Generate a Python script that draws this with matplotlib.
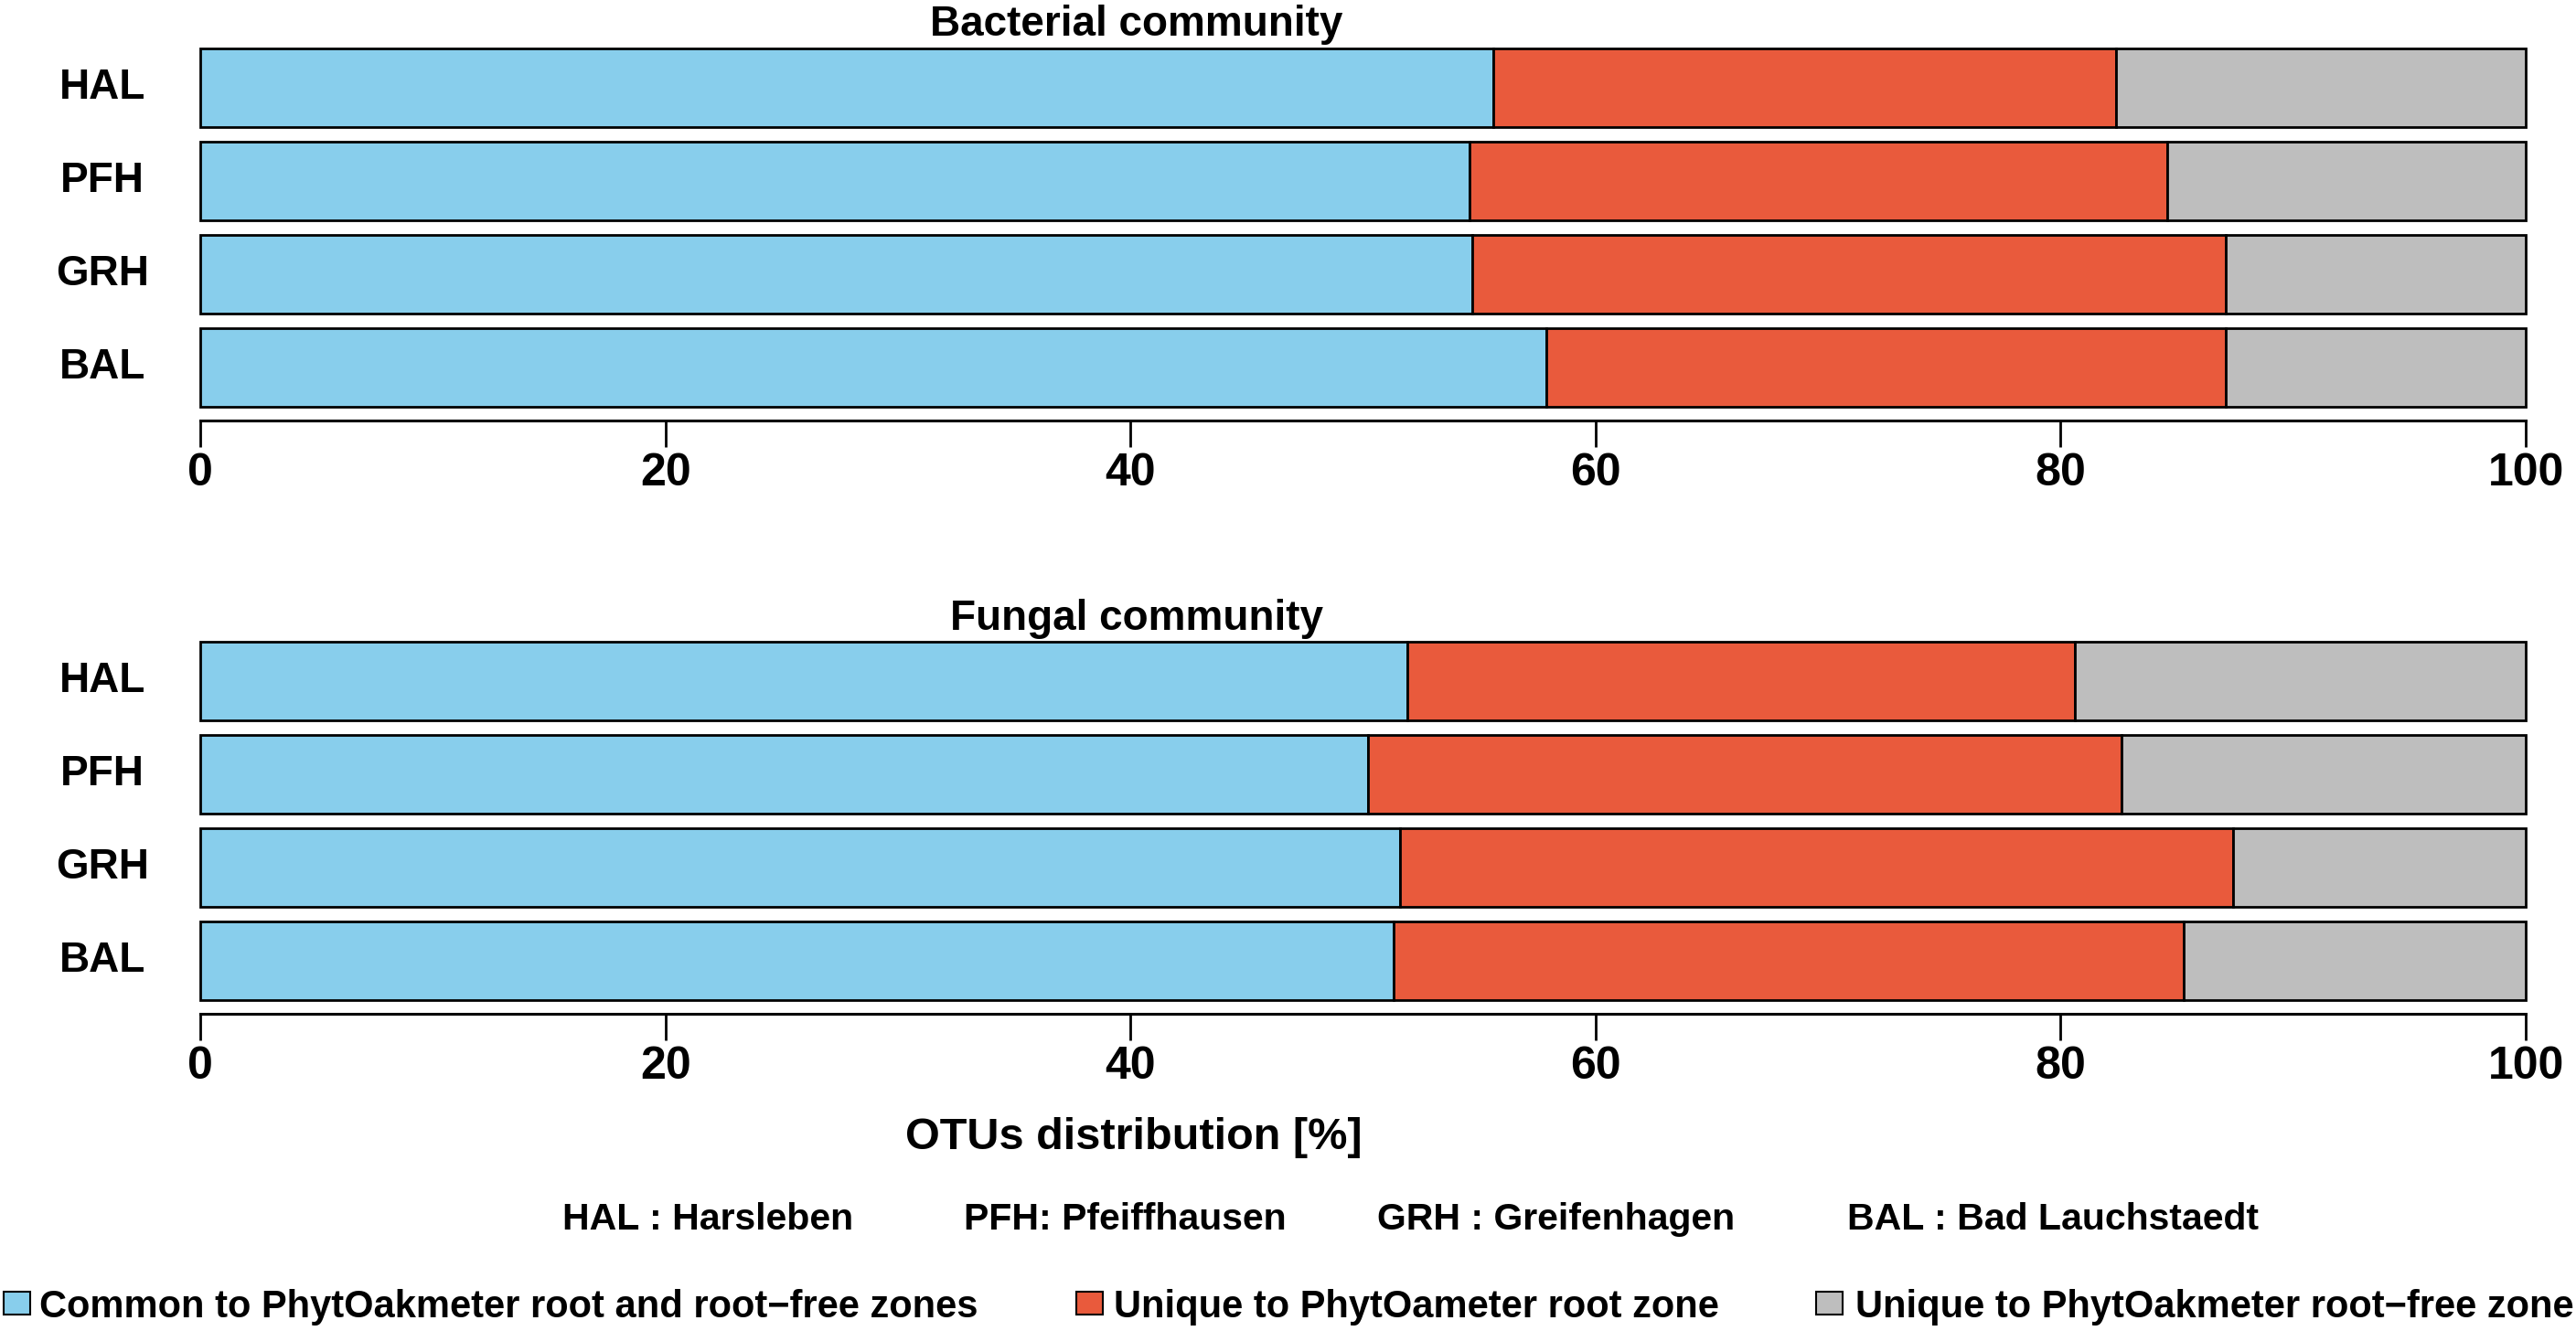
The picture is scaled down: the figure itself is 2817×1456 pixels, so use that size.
import matplotlib
matplotlib.use('Agg')
import matplotlib.pyplot as plt
from matplotlib.patches import Rectangle
import numpy as np

# sites, top to bottom
sites = ['HAL', 'PFH', 'GRH', 'BAL']

# percentages: common, unique root zone, unique root-free zone
bact_common = [55.6, 54.6, 54.7, 57.9]
bact_root = [26.8, 30.0, 32.4, 29.2]
bact_free = [17.6, 15.4, 12.9, 12.9]

fung_common = [51.9, 50.2, 51.6, 51.3]
fung_root = [28.7, 32.4, 35.8, 34.0]
fung_free = [19.4, 17.4, 12.6, 14.7]

site_names = ['HAL : Harsleben', 'PFH: Pfeiffhausen', 'GRH : Greifenhagen', 'BAL : Bad Lauchstaedt']
legend_labels = ['Common to PhytOakmeter root and root\u2212free zones',
                 'Unique to PhytOameter root zone',
                 'Unique to PhytOakmeter root\u2212free zone']
colors = ['#88CEEC', '#E95A3C', '#BEBEBE']

plt.rcParams['font.family'] = ['Liberation Sans', 'DejaVu Sans']
plt.rcParams['font.weight'] = 'bold'

W, H = 2817, 1456
fig = plt.figure(figsize=(W / 100, H / 100), dpi=100)


def px(x, y):
    return x / W, 1 - y / H


def draw_panel(bottom_px, common, root, free, title, title_base):
    left = 219
    right = 2762
    top_px = bottom_px - (0.569 + 3.5) * 102
    ax = fig.add_axes([left / W, 1 - bottom_px / H, (right - left) / W, (bottom_px - top_px) / H])
    ypos = np.arange(len(sites))[::-1]
    c = np.array(common)
    r = np.array(root)
    f = np.array(free)
    kw = dict(height=0.84, edgecolor='black', linewidth=2.0, clip_on=False)
    ax.barh(ypos, c, color=colors[0], **kw)
    ax.barh(ypos, r, left=c, color=colors[1], **kw)
    ax.barh(ypos, f, left=c + r, color=colors[2], **kw)
    ax.set_xlim(0, 100)
    ax.set_ylim(-0.569, 3.5)
    for s in ['top', 'right', 'left']:
        ax.spines[s].set_visible(False)
    ax.spines['bottom'].set_linewidth(2.2)
    ax.spines['bottom'].set_bounds(0, 100)
    ax.set_xticks([0, 20, 40, 60, 80, 100])
    ax.tick_params(axis='x', length=21, width=2.0, pad=4, labelsize=36)
    ax.set_yticks([])
    for i, s in enumerate(sites):
        ax.text(-4.2, ypos[i], s, ha='center', va='center', fontsize=33, fontweight='bold')
    fig.text(*px(1243, title_base), title, ha='center', va='baseline', fontsize=33, fontweight='bold')
    return ax


draw_panel(460, bact_common, bact_root, bact_free, 'Bacterial community', 39)
draw_panel(1109, fung_common, fung_root, fung_free, 'Fungal community', 689)

fig.text(*px(1240, 1257), 'OTUs distribution [%]', ha='center', va='baseline', fontsize=35, fontweight='bold')

site_x = [615, 1054, 1506, 2020]
for sx, name in zip(site_x, site_names):
    fig.text(*px(sx, 1345), name, ha='left', va='baseline', fontsize=29.5, fontweight='bold')

sq_x = [4, 1177, 1986]
txt_x = [43, 1218, 2029]
for sx, tx, lab, col in zip(sq_x, txt_x, legend_labels, colors):
    fig.patches.append(Rectangle(px(sx, 1438), 29 / W, 25 / H, transform=fig.transFigure,
                                 facecolor=col, edgecolor='black', linewidth=1.5))
    fig.text(*px(tx, 1441), lab, ha='left', va='baseline', fontsize=30, fontweight='bold')

fig.savefig('out.png', dpi=100)
